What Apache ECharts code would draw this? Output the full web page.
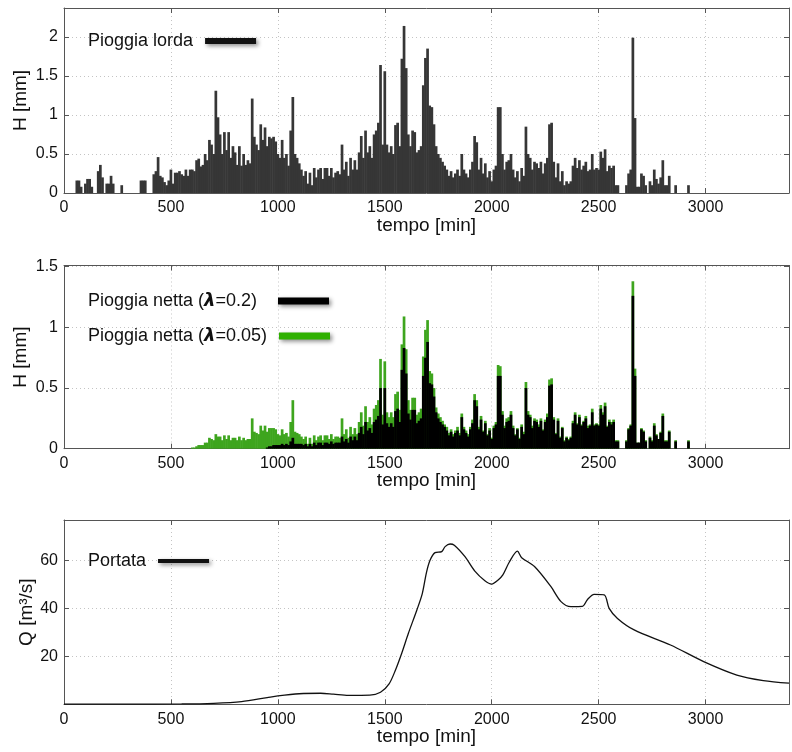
<!DOCTYPE html>
<html>
<head>
<meta charset="utf-8">
<script src="https://cdn.jsdelivr.net/npm/echarts@6/dist/echarts.min.js"></script>
<style>html,body{margin:0;padding:0;background:#fff;}#c{width:792px;height:752px;}</style>
</head>
<body>
<div id="c"></div>
<script>
// time step of the rain series [min]
const tStep = 10;
const xTicks = [0, 500, 1000, 1500, 2000, 2500, 3000];

// gross rainfall H [mm], from t = 0
const grossRain = [
  0,0,0,0,0,0,0.16,0.16,0.08,0,
  0.12,0.18,0.18,0.08,0,0,0.28,0.36,0.2,0,
  0.12,0.12,0.22,0.12,0,0,0,0.1,0,0,
  0,0,0,0,0,0,0.16,0.16,0.16,0,
  0,0,0.24,0.28,0.46,0.22,0.2,0.14,0.1,0.16,
  0.3,0.12,0.26,0.26,0.28,0.24,0.22,0.3,0.22,0.3,
  0.3,0.28,0.42,0.44,0.34,0.36,0.5,0.42,0.68,0.62,
  0.5,1.31,0.97,0.75,0.5,0.78,0.55,0.78,0.45,0.6,
  0.52,0.36,0.6,0.35,0.5,0.36,0.42,0.38,1.21,0.72,
  0.62,0.55,0.88,0.68,0.84,0.6,0.72,0.7,0.72,0.66,
  0.5,0.45,0.68,0.45,0.5,0.35,0.8,1.23,0.5,0.45,
  0.38,0.3,0.22,0.28,0.12,0.26,0.1,0.32,0.2,0.3,
  0.32,0.18,0.32,0.32,0.22,0.32,0.2,0.26,0.28,0.24,
  0.62,0.3,0.4,0.22,0.45,0.3,0.42,0.3,0.52,0.73,
  0.45,0.8,0.52,0.6,0.45,0.75,0.8,0.9,1.64,0.62,
  1.56,0.62,0.52,0.6,0.5,0.87,0.9,0.6,1.72,2.14,
  1.6,0.75,0.6,0.8,0.78,0.52,0.55,0.6,1.38,1.73,
  1.85,1.12,1.1,0.88,0.6,0.5,0.45,0.4,0.35,0.3,
  0.22,0.28,0.2,0.25,0.3,0.22,0.5,0.3,0.25,0.2,
  0.3,0.4,0.73,0.65,0.3,0.45,0.25,0.38,0.2,0.28,
  0.15,0.3,0.35,1.1,1.1,0.5,0.3,0.4,0.42,0.5,
  0.3,0.2,0.28,0.15,0.32,0.22,0.85,0.5,0.45,0.3,
  0.4,0.38,0.32,0.4,0.25,0.38,0.45,0.88,0.9,0.4,
  0.2,0.38,0.15,0.28,0.1,0.15,0.12,0.15,0.35,0.45,
  0.32,0.42,0.3,0.35,0.4,0.28,0.3,0.5,0.3,0.32,
  0.3,0.53,0.45,0.56,0.28,0.35,0.32,0.35,0.1,0.1,
  0,0,0,0.1,0.25,0.3,1.99,0.96,0.08,0.08,
  0.25,0.22,0.1,0,0.15,0.1,0.3,0.18,0.12,0.2,
  0.42,0.1,0.1,0.22,0,0,0.1,0,0,0,
  0,0,0.1
];

// net rainfall series start at t = netStart
const netStart = 600;
// net rainfall, lambda = 0.05 [mm]
const netRain005 = [
  0.01,0.01,0.02,0.03,0.03,0.03,0.05,0.05,0.09,0.08,
  0.07,0.12,0.1,0.1,0.07,0.11,0.08,0.11,0.07,0.09,
  0.09,0.07,0.1,0.07,0.09,0.07,0.08,0.08,0.25,0.14,
  0.13,0.12,0.19,0.15,0.19,0.14,0.17,0.17,0.17,0.16,
  0.12,0.11,0.16,0.12,0.13,0.1,0.22,0.4,0.14,0.13,
  0.12,0.1,0.08,0.1,0.04,0.09,0.04,0.11,0.07,0.1,
  0.11,0.07,0.11,0.11,0.08,0.12,0.08,0.1,0.1,0.09,
  0.25,0.12,0.16,0.09,0.18,0.12,0.17,0.12,0.22,0.3,
  0.19,0.35,0.22,0.26,0.2,0.33,0.36,0.4,0.74,0.28,
  0.72,0.3,0.26,0.3,0.26,0.45,0.47,0.32,0.86,1.09,
  0.82,0.4,0.32,0.42,0.42,0.28,0.3,0.33,0.76,0.98,
  1.06,0.64,0.62,0.5,0.34,0.29,0.26,0.23,0.2,0.18,
  0.13,0.16,0.12,0.15,0.18,0.13,0.29,0.18,0.15,0.12,
  0.18,0.24,0.45,0.4,0.18,0.27,0.15,0.23,0.12,0.17,
  0.09,0.19,0.22,0.69,0.68,0.31,0.19,0.25,0.26,0.31,
  0.19,0.12,0.17,0.09,0.2,0.14,0.55,0.31,0.28,0.19,
  0.25,0.24,0.2,0.25,0.16,0.24,0.29,0.57,0.58,0.26,
  0.13,0.25,0.1,0.18,0.07,0.1,0.08,0.1,0.23,0.3,
  0.21,0.28,0.2,0.23,0.27,0.19,0.2,0.33,0.2,0.21,
  0.2,0.36,0.3,0.38,0.19,0.24,0.22,0.24,0.07,0.07,
  0,0,0,0.07,0.17,0.2,1.38,0.66,0.05,0.05,
  0.17,0.15,0.07,0,0.1,0.07,0.21,0.12,0.08,0.14,
  0.29,0.07,0.07,0.15,0,0,0.07,0,0,0,
  0,0,0.07
];
// net rainfall, lambda = 0.2 [mm]
const netRain02 = [
  0,0,0,0,0,0,0,0,0,0,
  0,0,0,0,0,0,0,0,0,0,
  0,0,0,0,0,0,0,0,0,0,
  0,0,0,0,0,0.01,0.02,0.02,0.03,0.03,
  0.03,0.03,0.04,0.03,0.04,0.03,0.06,0.09,0.04,0.04,
  0.04,0.04,0.03,0.04,0.02,0.04,0.02,0.05,0.03,0.05,
  0.05,0.03,0.05,0.05,0.04,0.06,0.04,0.05,0.05,0.05,
  0.1,0.06,0.08,0.05,0.1,0.07,0.1,0.07,0.13,0.18,
  0.12,0.22,0.15,0.17,0.13,0.22,0.24,0.27,0.5,0.2,
  0.5,0.21,0.18,0.21,0.18,0.31,0.33,0.22,0.65,0.83,
  0.62,0.29,0.24,0.32,0.32,0.21,0.23,0.25,0.6,0.75,
  0.88,0.54,0.53,0.43,0.3,0.25,0.22,0.2,0.18,0.15,
  0.11,0.14,0.1,0.13,0.15,0.11,0.26,0.16,0.13,0.1,
  0.16,0.21,0.4,0.35,0.16,0.24,0.14,0.21,0.11,0.15,
  0.08,0.17,0.2,0.6,0.6,0.28,0.17,0.22,0.23,0.28,
  0.17,0.11,0.16,0.08,0.18,0.12,0.5,0.28,0.26,0.17,
  0.23,0.22,0.18,0.23,0.15,0.22,0.26,0.52,0.53,0.24,
  0.12,0.23,0.09,0.17,0.06,0.09,0.07,0.09,0.21,0.28,
  0.2,0.26,0.19,0.22,0.25,0.17,0.19,0.3,0.19,0.2,
  0.19,0.33,0.28,0.35,0.18,0.22,0.2,0.22,0.06,0.06,
  0,0,0,0.06,0.16,0.19,1.26,0.6,0.05,0.05,
  0.16,0.14,0.06,0,0.09,0.06,0.19,0.11,0.08,0.13,
  0.27,0.06,0.06,0.14,0,0,0.06,0,0,0,
  0,0,0.06
];

// discharge Q [m3/s]
const qTime = [0,300,550,700,830,950,1000,1100,1200,1260,1330,1430,1480,1520,1550,1580,1610,1650,1675,1695,1712,1735,1766,1782,1805,1825,1875,1920,1968,2000,2030,2052,2083,2120,2140,2200,2277,2324,2370,2424,2448,2479,2526,2549,2588,2666,2836,2991,3146,3270,3390];
const qValue = [0.1,0.1,0.15,0.4,1.1,2.8,3.5,4.4,4.6,4.2,3.7,3.8,5.0,8.5,14.3,21.5,29.5,39.3,46,55,60.1,63.2,63.6,65.7,66.8,66.3,61.5,55.6,51.5,50.1,51.8,53.9,59.4,63.8,61.1,57.4,49.0,42.8,40.7,40.8,43.7,45.8,45.6,40.0,35.8,31.0,24.7,17.8,12.2,9.9,8.8];

const seriesNames = ['Pioggia lorda', 'Pioggia netta (λ=0.2)', 'Pioggia netta (λ=0.05)', 'Portata'];

const font = '"Liberation Sans", Arial, Helvetica, sans-serif';
const X_MAX = 3390;
const frameColor = '#555';
const gridColor = '#c4c4c4';
const txt = '#111';

function onStep(step, hideZero) {
  return function (v) {
    const k = v / step;
    if (Math.abs(k - Math.round(k)) > 1e-6) return '';
    if (hideZero && Math.abs(v) < 1e-9) return '';
    return String(+v.toFixed(3));
  };
}

const grids = [
  {left: 64, top: 8, width: 727, height: 185},
  {left: 64, top: 265.5, width: 727, height: 183.2},
  {left: 64, top: 520, width: 727, height: 184.3}
];

const xAxes = [], yAxes = [];
const yCfg = [
  {max: 2.37, interval: 0.5, name: 'H [mm]', gap: 34, hideZero: false},
  {max: 1.51, interval: 0.5, name: 'H [mm]', gap: 34, hideZero: false},
  {max: 76.8, interval: 20, name: 'Q [m³/s]', gap: 28, hideZero: true}
];
grids.forEach((g, gi) => {
  xAxes.push({
    type: 'value', gridIndex: gi, min: 0, max: X_MAX, interval: 500, position: 'bottom',
    name: 'tempo [min]', nameLocation: 'middle', nameGap: 23, nameMoveOverlap: false,
    nameTextStyle: {fontSize: 19, color: txt, fontFamily: font},
    axisLine: {show: true, onZero: false, lineStyle: {color: frameColor, width: 1}},
    axisTick: {show: true, inside: true, length: 5, lineStyle: {color: frameColor}},
    axisLabel: {fontSize: 16, color: txt, margin: 7, fontFamily: font, formatter: onStep(500, false)},
    splitLine: {show: true, lineStyle: {color: gridColor, type: [1, 3], width: 1}}
  });
  xAxes.push({
    type: 'value', gridIndex: gi, min: 0, max: X_MAX, interval: 500, position: 'top',
    axisLine: {show: true, onZero: false, lineStyle: {color: frameColor, width: 1}},
    axisTick: {show: true, inside: true, length: 5, lineStyle: {color: frameColor}},
    axisLabel: {show: false}, splitLine: {show: false}
  });
  const c = yCfg[gi];
  yAxes.push({
    type: 'value', gridIndex: gi, min: 0, max: c.max, interval: c.interval, position: 'left',
    name: c.name, nameLocation: 'middle', nameGap: c.gap, nameMoveOverlap: false,
    nameTextStyle: {fontSize: 19, color: txt, fontFamily: font},
    axisLine: {show: true, onZero: false, lineStyle: {color: frameColor, width: 1}},
    axisTick: {show: true, inside: true, length: 5, lineStyle: {color: frameColor}},
    axisLabel: {fontSize: 16, color: txt, margin: 6, fontFamily: font, formatter: onStep(c.interval, c.hideZero)},
    splitLine: {show: true, lineStyle: {color: gridColor, type: [1, 3], width: 1}}
  });
  yAxes.push({
    type: 'value', gridIndex: gi, min: 0, max: c.max, interval: c.interval, position: 'right',
    axisLine: {show: true, onZero: false, lineStyle: {color: frameColor, width: 1}},
    axisTick: {show: true, inside: true, length: 5, lineStyle: {color: frameColor}},
    axisLabel: {show: false}, splitLine: {show: false}
  });
});

const grossData = grossRain.map((v, i) => [i * tStep, v]);
const net005Data = netRain005.map((v, i) => [netStart + i * tStep, v]);
const net02Data = netRain02.map((v, i) => [netStart + i * tStep, v]);
const qData = qTime.map((t, i) => [t, qValue[i]]);

const legendShadow = {shadowBlur: 4, shadowColor: 'rgba(0,0,0,0.45)', shadowOffsetX: 2, shadowOffsetY: 2};
function mkLegend(name, color, top, padRight, height, formatter) {
  const l = {
    data: [{name: name, itemStyle: Object.assign({color: color}, legendShadow)}],
    left: 88, top: top, align: 'right', icon: 'rect', itemWidth: 51, itemHeight: height,
    selectedMode: false, padding: 0,
    textStyle: {fontSize: 18, color: txt, fontFamily: font, padding: [0, padRight, 0, 0],
      rich: {n: {fontSize: 18, color: txt, fontFamily: font},
             l: {fontSize: 18, color: txt, fontFamily: '"DejaVu Sans", sans-serif', fontWeight: 'bold', fontStyle: 'italic'}}}
  };
  if (formatter) l.formatter = formatter;
  return l;
}

const option = {
  backgroundColor: '#fff',
  animation: false,
  grid: grids,
  xAxis: xAxes,
  yAxis: yAxes,
  legend: [
    mkLegend(seriesNames[0], '#111', 32, 7, 6),
    mkLegend(seriesNames[1], '#000', 292, 16, 7, '{n|Pioggia netta (}{l|λ}{n|=0.2)}'),
    mkLegend(seriesNames[2], '#2fb000', 327, 7, 7, '{n|Pioggia netta (}{l|λ}{n|=0.05)}'),
    mkLegend(seriesNames[3], '#111', 552, 7, 4)
  ],
  series: [
    {name: seriesNames[0], type: 'bar', xAxisIndex: 0, yAxisIndex: 0, data: grossData,
     barWidth: 2.7, itemStyle: {color: '#363636'}},
    {name: seriesNames[2], type: 'bar', xAxisIndex: 2, yAxisIndex: 2, data: net005Data,
     barWidth: 2.7, barGap: '-100%', itemStyle: {color: '#3ea51e'}},
    {name: seriesNames[1], type: 'bar', xAxisIndex: 2, yAxisIndex: 2, data: net02Data,
     barWidth: 2.7, barGap: '-100%', itemStyle: {color: '#000'}},
    {name: seriesNames[3], type: 'line', xAxisIndex: 4, yAxisIndex: 4, data: qData,
     showSymbol: false, smooth: 0.3, color: '#111', lineStyle: {color: '#111', width: 1.3}}
  ]
};

const chart = echarts.init(document.getElementById('c'), null, {renderer: 'canvas'});
chart.setOption(option);
</script>
</body>
</html>
